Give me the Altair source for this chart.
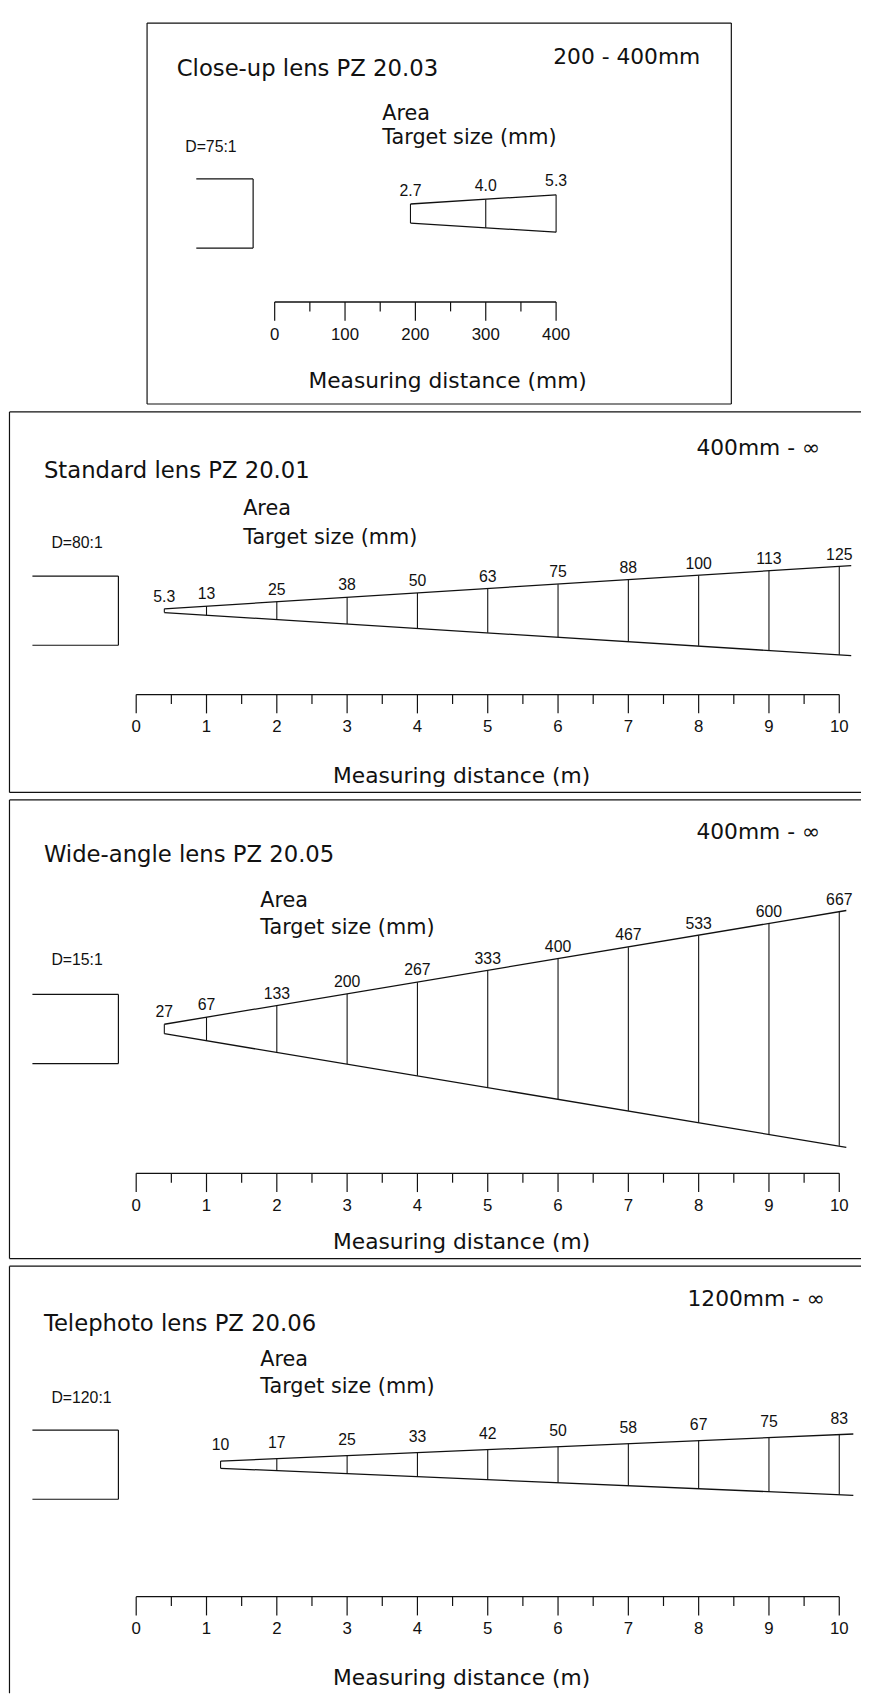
import altair as alt
import pandas as pd

# ---------------- data ----------------
# Close-up lens PZ 20.03  (distance in mm, target size in mm)
cu_dist = [193, 300, 400]
cu_size = [2.7, 4.0, 5.3]
cu_label = ["2.7", "4.0", "5.3"]
cu_edge_end = [400, 5.3]
cu_major = [0, 100, 200, 300, 400]
cu_major_lbl = ["0", "100", "200", "300", "400"]
cu_minor = [50, 150, 250, 350]

# Standard lens PZ 20.01  (distance in m, target size in mm)
std_dist = [0.4, 1, 2, 3, 4, 5, 6, 7, 8, 9, 10]
std_size = [5.3, 13, 25, 38, 50, 63, 75, 88, 100, 113, 125]
std_label = ["5.3", "13", "25", "38", "50", "63", "75", "88", "100", "113", "125"]
std_edge_end = [10.17, 128]

# Wide-angle lens PZ 20.05
wide_dist = [0.4, 1, 2, 3, 4, 5, 6, 7, 8, 9, 10]
wide_size = [27, 67, 133, 200, 267, 333, 400, 467, 533, 600, 667]
wide_label = ["27", "67", "133", "200", "267", "333", "400", "467", "533", "600", "667"]
wide_edge_end = [10.1, 676]

# Telephoto lens PZ 20.06
tele_dist = [1.2, 2, 3, 4, 5, 6, 7, 8, 9, 10]
tele_size = [10, 17, 25, 33, 42, 50, 58, 67, 75, 83]
tele_label = ["10", "17", "25", "33", "42", "50", "58", "67", "75", "83"]
tele_edge_end = [10.2, 85]

m_major = [0, 1, 2, 3, 4, 5, 6, 7, 8, 9, 10]
m_major_lbl = ["0", "1", "2", "3", "4", "5", "6", "7", "8", "9", "10"]
m_minor = [0.5, 1.5, 2.5, 3.5, 4.5, 5.5, 6.5, 7.5, 8.5, 9.5]

# ---------------- layout (one drawing sheet, pixels) ----------------
W = 862
HT = 1690
FT = "DejaVu Sans"
FN = "Liberation Sans"
INK = "#111111"

panels = [
    dict(off=0, title="Close-up lens PZ 20.03", rng="200 - 400mm", dlab="D=75:1",
         axis_title="Measuring distance (mm)",
         dist=cu_dist, size=cu_size, label=cu_label, edge_end=cu_edge_end,
         major=cu_major, major_lbl=cu_major_lbl, minor=cu_minor,
         x0=268.8, ppu=0.7118, cy=193, mmpp=0.14, ax=282.5, lab_off=8.5,
         frame=(139.7, 730.8, 0.3, 385.7), t_xy=(169.7, 46.5), r_xy=(625, 34.6),
         d_xy=(178.3, 125.6), a_xy=(377.7, 93), ts_xy=(377.7, 115.8),
         at_xy=(443.8, 362.9), br=(189.5, 247)),
    dict(off=394, title="Standard lens PZ 20.01", rng="400mm - ∞", dlab="D=80:1",
         axis_title="Measuring distance (m)",
         dist=std_dist, size=std_size, label=std_label, edge_end=std_edge_end,
         major=m_major, major_lbl=m_major_lbl, minor=m_minor,
         x0=128.7, ppu=71.13, cy=200.8, mmpp=1.404, ax=285.7, lab_off=7,
         frame=(393.7, 778.7), t_xy=(35.3, 59.9), r_xy=(758, 36),
         d_xy=(42.9, 132.5), a_xy=(236.9, 98.9), ts_xy=(236.9, 126),
         at_xy=(457.9, 368.6), br=(23.7, 110.7)),
    dict(off=787, title="Wide-angle lens PZ 20.05", rng="400mm - ∞", dlab="D=15:1",
         axis_title="Measuring distance (m)",
         dist=wide_dist, size=wide_size, label=wide_label, edge_end=wide_edge_end,
         major=m_major, major_lbl=m_major_lbl, minor=m_minor,
         x0=128.7, ppu=71.13, cy=231, mmpp=2.82, ax=377, lab_off=7,
         frame=(786.3, 1250.3), t_xy=(35.3, 54.7), r_xy=(758, 32),
         d_xy=(42.9, 160.9), a_xy=(254.2, 102.4), ts_xy=(254.2, 128.4),
         at_xy=(457.9, 447), br=(23.7, 110.7)),
    dict(off=1259, title="Telephoto lens PZ 20.06", rng="1200mm - ∞", dlab="D=120:1",
         axis_title="Measuring distance (m)",
         dist=tele_dist, size=tele_size, label=tele_label, edge_end=tele_edge_end,
         major=m_major, major_lbl=m_major_lbl, minor=m_minor,
         x0=128.7, ppu=71.13, cy=199.8, mmpp=1.37, ax=333.3, lab_off=11,
         frame=(1258.0, None), t_xy=(35.3, 57.3), r_xy=(756, 32.3),
         d_xy=(42.9, 132), a_xy=(254.2, 95.2), ts_xy=(254.2, 120),
         at_xy=(457.9, 416), br=(23.7, 110.7)),
]


def one():
    return pd.DataFrame({"a": [0]})


def txt(s, x, y, size, font=FT, align="left"):
    return alt.Chart(pd.DataFrame({"t": [s]})).mark_text(
        align=align, baseline="middle", font=font, fontSize=size, color=INK
    ).encode(x=alt.value(x), y=alt.value(y), text="t:N")


def hline(x1, x2, y, sw=1.2):
    return alt.Chart(one()).mark_rule(color=INK, strokeWidth=sw).encode(
        x=alt.value(x1), x2=alt.value(x2), y=alt.value(y))


def vline(x, y1, y2, sw=1.2):
    return alt.Chart(one()).mark_rule(color=INK, strokeWidth=sw).encode(
        x=alt.value(x), y=alt.value(y1), y2=alt.value(y2))


def make_panel(p):
    o = p["off"]
    c = o + p["cy"]          # cone centre line, sheet pixels
    m = p["mmpp"]
    xs = alt.Scale(domain=[-p["x0"] / p["ppu"], (W - p["x0"]) / p["ppu"]], nice=False, zero=False)
    ys = alt.Scale(domain=[(c - HT) * m, c * m], nice=False, zero=False)

    cone = pd.DataFrame({"d": p["dist"], "s": p["size"], "lbl": p["label"]})
    edges = pd.DataFrame({
        "d0": [p["dist"][0], p["dist"][0]],
        "d1": [p["edge_end"][0], p["edge_end"][0]],
        "s0": [p["size"][0], p["size"][0]],
        "s1": [p["edge_end"][1], p["edge_end"][1]],
        "sign": [1, -1],
    })
    major = pd.DataFrame({"d": p["major"], "lbl": p["major_lbl"]})
    minor = pd.DataFrame({"d": p["minor"]})
    ax = o + p["ax"]

    edge_layer = alt.Chart(edges).transform_calculate(
        y0="datum.sign*datum.s0/2", y1="datum.sign*datum.s1/2"
    ).mark_rule(color=INK, strokeWidth=1.3).encode(
        x=alt.X("d0:Q", scale=xs, axis=None),
        x2="d1:Q",
        y=alt.Y("y0:Q", scale=ys, axis=None),
        y2="y1:Q",
    )
    vert_layer = alt.Chart(cone).transform_calculate(
        top="datum.s/2", bot="-datum.s/2"
    ).mark_rule(color=INK, strokeWidth=1.1).encode(
        x=alt.X("d:Q", scale=xs, axis=None),
        y=alt.Y("top:Q", scale=ys, axis=None),
        y2="bot:Q",
    )
    lbl_layer = alt.Chart(cone).transform_calculate(
        top="datum.s/2"
    ).mark_text(font=FN, fontSize=16, color=INK, baseline="alphabetic", dy=-p["lab_off"]).encode(
        x=alt.X("d:Q", scale=xs, axis=None),
        y=alt.Y("top:Q", scale=ys, axis=None),
        text="lbl:N",
    )
    base_layer = alt.Chart(pd.DataFrame({"a": [p["major"][0]], "b": [p["major"][-1]]})).mark_rule(
        color=INK, strokeWidth=1.3).encode(
        x=alt.X("a:Q", scale=xs, axis=None), x2="b:Q", y=alt.value(ax))
    major_layer = alt.Chart(major).mark_rule(color=INK, strokeWidth=1.2).encode(
        x=alt.X("d:Q", scale=xs, axis=None), y=alt.value(ax), y2=alt.value(ax + 19))
    minor_layer = alt.Chart(minor).mark_rule(color=INK, strokeWidth=1.2).encode(
        x=alt.X("d:Q", scale=xs, axis=None), y=alt.value(ax), y2=alt.value(ax + 9.5))
    tick_lbl = alt.Chart(major).mark_text(font=FN, fontSize=17, color=INK, baseline="middle").encode(
        x=alt.X("d:Q", scale=xs, axis=None), y=alt.value(ax + 33), text="lbl:N")

    layers = [edge_layer, vert_layer, lbl_layer, base_layer, major_layer, minor_layer, tick_lbl]

    # sensor bracket
    bl, br = p["br"]
    layers += [hline(bl, br, c - 35), hline(bl, br, c + 35), vline(br, c - 35, c + 35)]

    # texts
    layers += [
        txt(p["title"], p["t_xy"][0], o + p["t_xy"][1], 23),
        txt(p["rng"], p["r_xy"][0], o + p["r_xy"][1], 22, align="center"),
        txt(p["dlab"], p["d_xy"][0], o + p["d_xy"][1], 16, font=FN),
        txt("Area", p["a_xy"][0], o + p["a_xy"][1] - 1, 21),
        txt("Target size (mm)", p["ts_xy"][0], o + p["ts_xy"][1] + 1, 21),
        txt(p["axis_title"], p["at_xy"][0], o + p["at_xy"][1], 22, align="center"),
    ]

    # frame
    fr = p["frame"]
    if len(fr) == 4:
        fl, frr, ft, fb = fr
        layers += [hline(fl, frr, ft), hline(fl, frr, fb), vline(fl, ft, fb), vline(frr, ft, fb)]
    else:
        ft, fb = fr
        layers += [hline(0.5, W, ft), vline(0.5, ft, fb if fb is not None else HT)]
        if fb is not None:
            layers += [hline(0.5, W, fb)]

    return alt.layer(*layers)


chart = alt.layer(*[make_panel(p) for p in panels]).resolve_scale(
    x="independent", y="independent"
).properties(
    width=W, height=HT,
    padding={"left": 0, "top": 4, "right": 0, "bottom": 0},
).configure_view(stroke=None)

chart.save("out.html", embed_options={"renderer": "svg", "actions": False})
